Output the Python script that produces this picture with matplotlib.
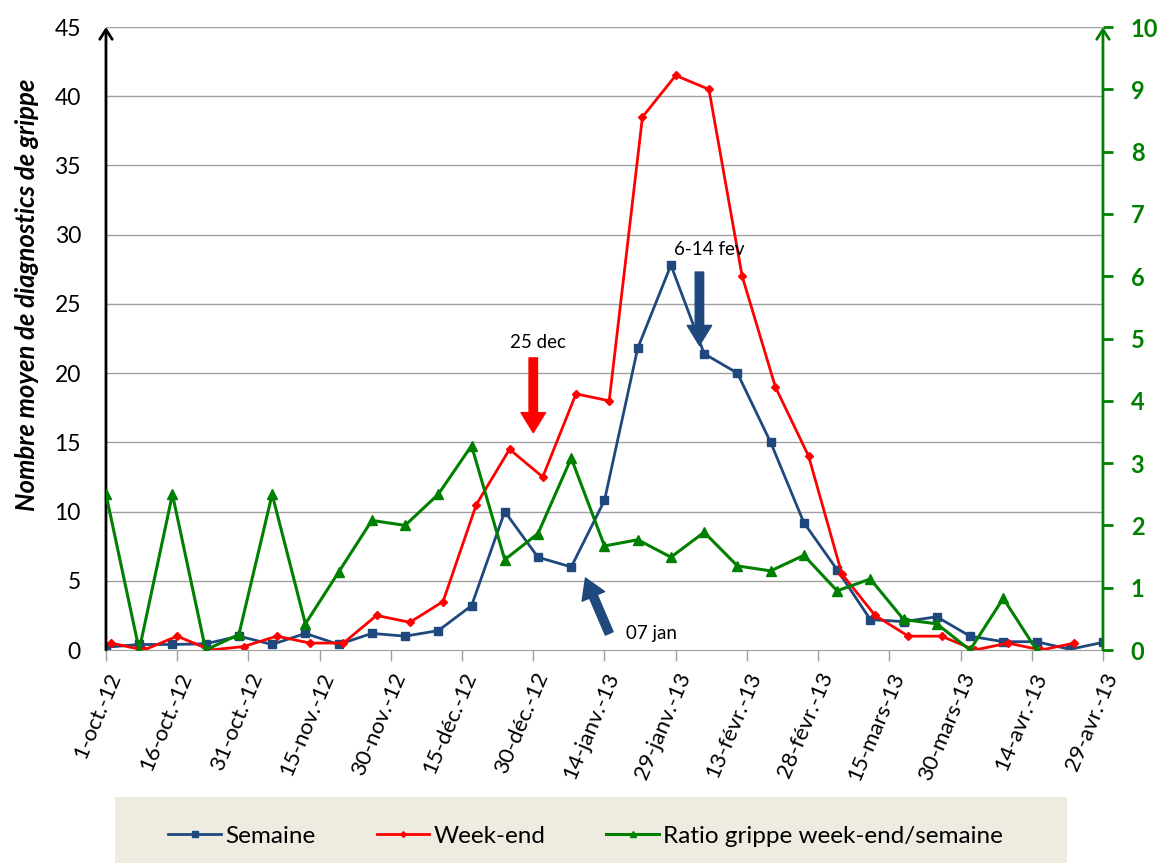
import pandas as pd
import matplotlib
matplotlib.use("Agg")
import matplotlib.pyplot as plt
from matplotlib.patches import Rectangle

plt.rcParams['font.family'] = ['Lato', 'DejaVu Sans']

# weekly points starting Monday 1 Oct 2012 (week-end points one day later)
semaine_dates = pd.date_range('2012-10-01', periods=31, freq='7D')
weekend_dates = semaine_dates[:30] + pd.Timedelta(days=1)
ratio_dates = semaine_dates[:29]

semaine = [0.2, 0.4, 0.4, 0.45, 1.0, 0.4, 1.2, 0.4, 1.2, 1.0, 1.4, 3.2, 10.0, 6.7, 6.0,
           10.8, 21.8, 27.8, 21.4, 20.0, 15.0, 9.2, 5.8, 2.2, 2.05, 2.4, 1.0, 0.6, 0.6, 0.05, 0.55]
weekend = [0.5, 0.0, 1.0, 0.0, 0.25, 1.0, 0.5, 0.5, 2.5, 2.0, 3.5, 10.5, 14.5, 12.5, 18.5,
           18.0, 38.5, 41.5, 40.5, 27.0, 19.0, 14.0, 5.5, 2.5, 1.0, 1.0, 0.0, 0.5, 0.0, 0.5]
ratio = [2.5, 0.0, 2.5, 0.0, 0.25, 2.5, 0.42, 1.25, 2.08, 2.0, 2.5, 3.28, 1.45, 1.87, 3.08,
         1.67, 1.77, 1.49, 1.89, 1.35, 1.27, 1.52, 0.95, 1.14, 0.49, 0.42, 0.0, 0.83, 0.0]

tick_dates = pd.date_range('2012-10-01', periods=15, freq='15D')
tick_labels = ['1-oct.-12', '16-oct.-12', '31-oct.-12', '15-nov.-12', '30-nov.-12',
               '15-déc.-12', '30-déc.-12', '14-janv.-13', '29-janv.-13', '13-févr.-13',
               '28-févr.-13', '15-mars-13', '30-mars-13', '14-avr.-13', '29-avr.-13']

blue = '#1F497D'
red = '#FF0000'
green = '#008000'

fig = plt.figure(figsize=(11.62, 8.63), dpi=100)
ax = fig.add_axes([0.0912, 0.2468, 0.858, 0.7219])
ax2 = ax.twinx()

l1, = ax.plot(semaine_dates, semaine, color=blue, lw=2, marker='s', ms=6, label='Semaine')
l2, = ax.plot(weekend_dates, weekend, color=red, lw=2, marker='D', ms=4, label='Week-end')
l3, = ax2.plot(ratio_dates, ratio, color=green, lw=2.2, marker='^', ms=7,
               label='Ratio grippe week-end/semaine')

ax.set_xlim(tick_dates[0], tick_dates[-1])
ax.set_ylim(0, 45)
ax2.set_ylim(0, 10)
ax.set_yticks(range(0, 50, 5))
ax2.set_yticks(range(0, 11))

ax.set_xticks(tick_dates)
ax.set_xticklabels(tick_labels, rotation=67, ha='right', rotation_mode='anchor', fontsize=16)
ax.tick_params(axis='x', colors='#A0A0A0', length=8, width=1, direction='out', pad=6)
for lab in ax.get_xticklabels():
    lab.set_color('black')
ax.tick_params(axis='y', length=0, labelsize=16.5, pad=18)
ax2.tick_params(axis='y', colors=green, length=7, width=2, labelsize=17, pad=13)
for lab in ax2.get_yticklabels():
    lab.set_fontweight('bold')

for y in range(5, 50, 5):
    ax.axhline(y, color='#A0A0A0', lw=1, zorder=0)

for s in ['top', 'left', 'right']:
    ax.spines[s].set_visible(False)
    ax2.spines[s].set_visible(False)
ax2.spines['bottom'].set_visible(False)
ax.spines['bottom'].set_color('#A0A0A0')

# axis lines with arrow heads
ax.annotate('', xy=(0, 1.0), xytext=(0, 0), xycoords='axes fraction',
            arrowprops=dict(arrowstyle='->,head_length=0.7,head_width=0.45', color='black', lw=2,
                            shrinkA=0, shrinkB=0), annotation_clip=False)
ax2.annotate('', xy=(1, 1.0), xytext=(1, 0), xycoords='axes fraction',
             arrowprops=dict(arrowstyle='->,head_length=0.7,head_width=0.45', color=green, lw=2,
                             shrinkA=0, shrinkB=0), annotation_clip=False)

ax.set_ylabel('Nombre moyen de diagnostics de grippe', fontsize=18.5, fontstyle='italic',
              fontweight='bold')
ax.yaxis.set_label_coords(-0.067, 0.57)

# annotations
arrow_kw = dict(arrowstyle='simple,head_length=0.9,head_width=1.1,tail_width=0.38',
                shrinkA=0, shrinkB=0, mutation_scale=16)
ax.annotate('', xy=(pd.Timestamp('2012-12-30'), 15.7), xytext=(pd.Timestamp('2012-12-30'), 21.1),
            arrowprops=dict(color=red, ec=red, **arrow_kw))
ax.text(pd.Timestamp('2012-12-31'), 22.2, '25 dec', fontsize=13.5, ha='center', va='center')
ax.annotate('', xy=(pd.Timestamp('2013-02-03'), 22.0), xytext=(pd.Timestamp('2013-02-03'), 27.3),
            arrowprops=dict(color=blue, ec=blue, **arrow_kw))
ax.text(pd.Timestamp('2013-02-05'), 28.9, '6-14 fev', fontsize=13.5, ha='center', va='center')
ax.annotate('', xy=(pd.Timestamp('2013-01-10'), 5.2), xytext=(pd.Timestamp('2013-01-15'), 1.2),
            arrowprops=dict(color=blue, ec=blue, **arrow_kw))
ax.text(pd.Timestamp('2013-01-24'), 1.2, '07 jan', fontsize=13.5, ha='center', va='center')

# legend box
fig.patches.append(Rectangle((0.099, 0.0), 0.819, 0.077, transform=fig.transFigure,
                             facecolor='#EEEBE0', edgecolor='none', zorder=0))
fig.legend(handles=[l1, l2, l3], loc='center left', bbox_to_anchor=(0.145, 0.031), ncol=3,
           frameon=False, fontsize=17.5, handlelength=2.15, handletextpad=0.2, columnspacing=2.5,
           markerscale=0.7, borderaxespad=0, borderpad=0)

fig.savefig('out.png', dpi=100)
